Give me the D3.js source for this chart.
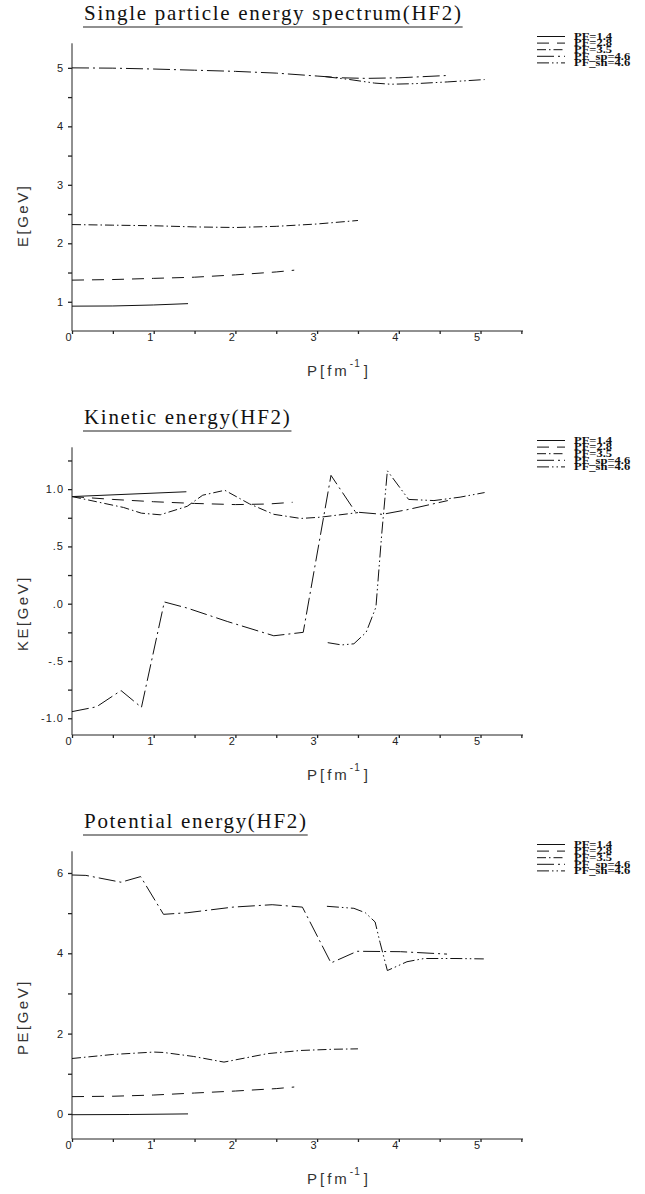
<!DOCTYPE html>
<html>
<head>
<meta charset="utf-8">
<script src="https://cdn.jsdelivr.net/npm/d3@7"></script>
<style>
  html, body { margin: 0; padding: 0; background: #fff; }
  svg { display: block; }
</style>
</head>
<body>
<svg id="chart" width="645" height="1194"></svg>
<script>
// ---- series labels and tick labels ----
const seriesNames = ["PF=1.4", "PF=2.8", "PF=3.5", "PF_sp=4.6", "PF_sh=4.6"];
const xTickValues = [0, 1, 2, 3, 4, 5];

// ---- single particle energy E [GeV] vs P [fm^-1] ----
const e_pf14 = [[0, 0.925], [0.5, 0.928], [1.0, 0.945], [1.42, 0.968]];
const e_pf28 = [[0, 1.37], [0.5, 1.38], [1.0, 1.40], [1.5, 1.42], [2.0, 1.46], [2.5, 1.51], [2.72, 1.54]];
const e_pf35 = [[0, 2.32], [0.5, 2.31], [1.0, 2.30], [1.5, 2.28], [2.0, 2.27], [2.5, 2.29], [3.0, 2.33], [3.5, 2.39]];
const e_sp46 = [[0, 5.0], [0.5, 4.995], [1.0, 4.98], [1.5, 4.96], [2.0, 4.94], [2.5, 4.91], [3.0, 4.86], [3.3, 4.83], [3.6, 4.82], [4.0, 4.83], [4.6, 4.87]];
const e_sh46 = [[3.1, 4.85], [3.4, 4.80], [3.7, 4.74], [3.9, 4.72], [4.2, 4.73], [4.6, 4.76], [5.05, 4.80]];

// ---- kinetic energy KE [GeV] ----
const ke_pf14 = [[0, 0.935], [1.4, 0.977]];
const ke_pf28 = [[0, 0.935], [0.5, 0.91], [1.0, 0.89], [1.5, 0.875], [2.0, 0.865], [2.4, 0.87], [2.7, 0.885]];
const ke_pf35 = [[0, 0.935], [0.3, 0.89], [0.63, 0.84], [0.85, 0.79], [1.08, 0.776], [1.41, 0.85], [1.6, 0.947], [1.87, 0.99], [2.17, 0.872], [2.47, 0.78], [2.8, 0.744], [3.04, 0.755], [3.5, 0.795]];
const ke_sp46 = [[0, -0.942], [0.3, -0.90], [0.6, -0.758], [0.85, -0.905], [1.13, 0.015], [1.41, -0.038], [1.9, -0.155], [2.47, -0.28], [2.83, -0.25], [3.17, 1.12], [3.47, 0.80], [3.8, 0.78], [4.1, 0.82], [4.6, 0.9]];
const ke_sh46 = [[3.13, -0.34], [3.3, -0.36], [3.45, -0.35], [3.6, -0.25], [3.72, -0.03], [3.79, 0.6], [3.86, 1.16], [4.12, 0.91], [4.43, 0.90], [4.75, 0.93], [5.05, 0.97]];

// ---- potential energy PE [GeV] ----
const pe_pf14 = [[0, -0.02], [0.7, -0.015], [1.42, 0.0]];
const pe_pf28 = [[0, 0.43], [0.5, 0.44], [1.0, 0.47], [1.5, 0.52], [2.0, 0.57], [2.5, 0.63], [2.72, 0.67]];
const pe_pf35 = [[0, 1.38], [0.5, 1.48], [1.0, 1.54], [1.12, 1.53], [1.49, 1.43], [1.86, 1.29], [2.39, 1.50], [2.8, 1.58], [3.2, 1.61], [3.5, 1.62]];
const pe_sp46 = [[0, 5.95], [0.17, 5.94], [0.6, 5.77], [0.84, 5.91], [1.12, 4.97], [1.41, 5.01], [1.97, 5.15], [2.45, 5.21], [2.82, 5.15], [3.17, 3.76], [3.49, 4.05], [4.02, 4.04], [4.59, 3.98]];
const pe_sh46 = [[3.12, 5.17], [3.45, 5.12], [3.59, 5.01], [3.71, 4.78], [3.77, 4.27], [3.86, 3.57], [4.10, 3.79], [4.31, 3.87], [4.7, 3.87], [5.04, 3.86]];

// Line dash patterns for the five series
const dashes = ["none", "12,8", "9,3,1.5,3", "17,4,2,4", "12,3,1.5,3,1.5,3"];

const svg = d3.select("#chart");

const panels = [
  { title: "Single particle energy spectrum(HF2)", ylabel: "E[GeV]",
    top: 0, ydomain: [0.5, 5.42],
    major: [1, 2, 3, 4, 5], minor: [1.5, 2.5, 3.5, 4.5],
    fmt: d => String(d),
    series: [e_pf14, e_pf28, e_pf35, e_sp46, e_sh46] },
  { title: "Kinetic energy(HF2)", ylabel: "KE[GeV]",
    top: 404, ydomain: [-1.146, 1.365],
    major: [-1, -0.5, 0, 0.5, 1], minor: [-0.75, -0.25, 0.25, 0.75, 1.25],
    fmt: d => (d < 0 ? "-" : "") + (Math.abs(d) >= 1 ? d3.format(".1f")(Math.abs(d)) : d3.format(".1f")(Math.abs(d)).replace(/^0/, "")),
    series: [ke_pf14, ke_pf28, ke_pf35, ke_sp46, ke_sh46] },
  { title: "Potential energy(HF2)", ylabel: "PE[GeV]",
    top: 808, ydomain: [-0.625, 6.54],
    major: [0, 2, 4, 6], minor: [1, 3, 5],
    fmt: d => String(d),
    series: [pe_pf14, pe_pf28, pe_pf35, pe_sp46, pe_sh46] }
];

const x = d3.scaleLinear().domain([0, 5.52]).range([72, 523]);
const xMinor = d3.range(0, 5.51, 0.5);

panels.forEach(p => {
  const g = svg.append("g").attr("transform", `translate(0,${p.top})`);
  const y = d3.scaleLinear().domain(p.ydomain).range([331, 43.3]);

  // title with underline
  const t = g.append("text")
    .attr("x", 84).attr("y", 20)
    .attr("font-family", "Liberation Serif, serif")
    .attr("font-size", 21)
    .attr("letter-spacing", 1.7)
    .attr("fill", "#111")
    .text(p.title);
  const tw = t.node().getComputedTextLength();
  g.append("line").attr("x1", 83).attr("x2", 83 + tw + 1)
    .attr("y1", 27).attr("y2", 27)
    .attr("stroke", "#222").attr("stroke-width", 1.2);

  // x axis
  const xAxis = d3.axisBottom(x).tickValues(xMinor).tickSize(3)
    .tickFormat(d => Number.isInteger(d) ? String(d) : "");
  const xg = g.append("g").attr("transform", "translate(0,331)").call(xAxis);
  xg.select(".domain").attr("stroke", "#222").attr("d", "M72,0H523");
  xg.selectAll(".tick line").attr("stroke", "#222").attr("stroke-width", 1.3);
  xg.selectAll(".tick text")
    .attr("font-family", "Liberation Sans, sans-serif").attr("font-size", 11)
    .attr("fill", "#222").attr("dx", -4).attr("dy", 4);

  // y axis
  const yAxis = d3.axisLeft(y).tickValues(p.major.concat(p.minor).sort((a, b) => a - b))
    .tickSize(4).tickFormat(d => p.major.includes(d) ? p.fmt(d) : "");
  const yg = g.append("g").attr("transform", "translate(72,0)").call(yAxis);
  yg.select(".domain").attr("stroke", "#222").attr("d", `M0,${y.range()[1]}V331`);
  yg.selectAll(".tick line").attr("stroke", "#222").attr("stroke-width", 1.3);
  yg.selectAll(".tick text")
    .attr("font-family", "Liberation Sans, sans-serif").attr("font-size", 11)
    .attr("letter-spacing", 1).attr("fill", "#222").attr("x", -8);

  // axis titles
  g.append("text")
    .attr("transform", `translate(28,${331 - 84}) rotate(-90)`)
    .attr("text-anchor", "start")
    .attr("font-family", "Liberation Sans, sans-serif").attr("font-size", 15)
    .attr("letter-spacing", 2.5).attr("fill", "#333")
    .text(p.ylabel);

  const xl = g.append("text")
    .attr("x", 307).attr("y", 376)
    .attr("font-family", "Liberation Sans, sans-serif").attr("font-size", 15)
    .attr("letter-spacing", 3).attr("fill", "#333");
  xl.append("tspan").text("P[fm");
  xl.append("tspan").attr("dy", -9).attr("font-size", 10).attr("letter-spacing", 1).text("-1");
  xl.append("tspan").attr("dy", 9).attr("dx", 3).text("]");

  // curves
  const line = d3.line().x(d => x(d[0])).y(d => y(d[1]));
  p.series.forEach((s, i) => {
    g.append("path").datum(s)
      .attr("d", line)
      .attr("fill", "none")
      .attr("stroke", "#111")
      .attr("stroke-width", 1)
      .attr("stroke-dasharray", dashes[i]);
  });

  // legend: short line sample plus a wide bold serif label per series
  const lg = g.append("g");
  seriesNames.forEach((name, i) => {
    const yy = 36.5 + i * 6.6;
    lg.append("line").attr("x1", 537).attr("x2", 565)
      .attr("y1", yy).attr("y2", yy)
      .attr("stroke", "#111").attr("stroke-width", 1)
      .attr("stroke-dasharray", dashes[i]);
    lg.append("text")
      .attr("transform", `translate(574,${yy + 3.2}) scale(1.32,1)`)
      .attr("font-family", "Liberation Serif, serif")
      .attr("font-weight", "bold").attr("font-size", 9.5)
      .attr("fill", "#111")
      .text(name);
  });
});
</script>
</body>
</html>
